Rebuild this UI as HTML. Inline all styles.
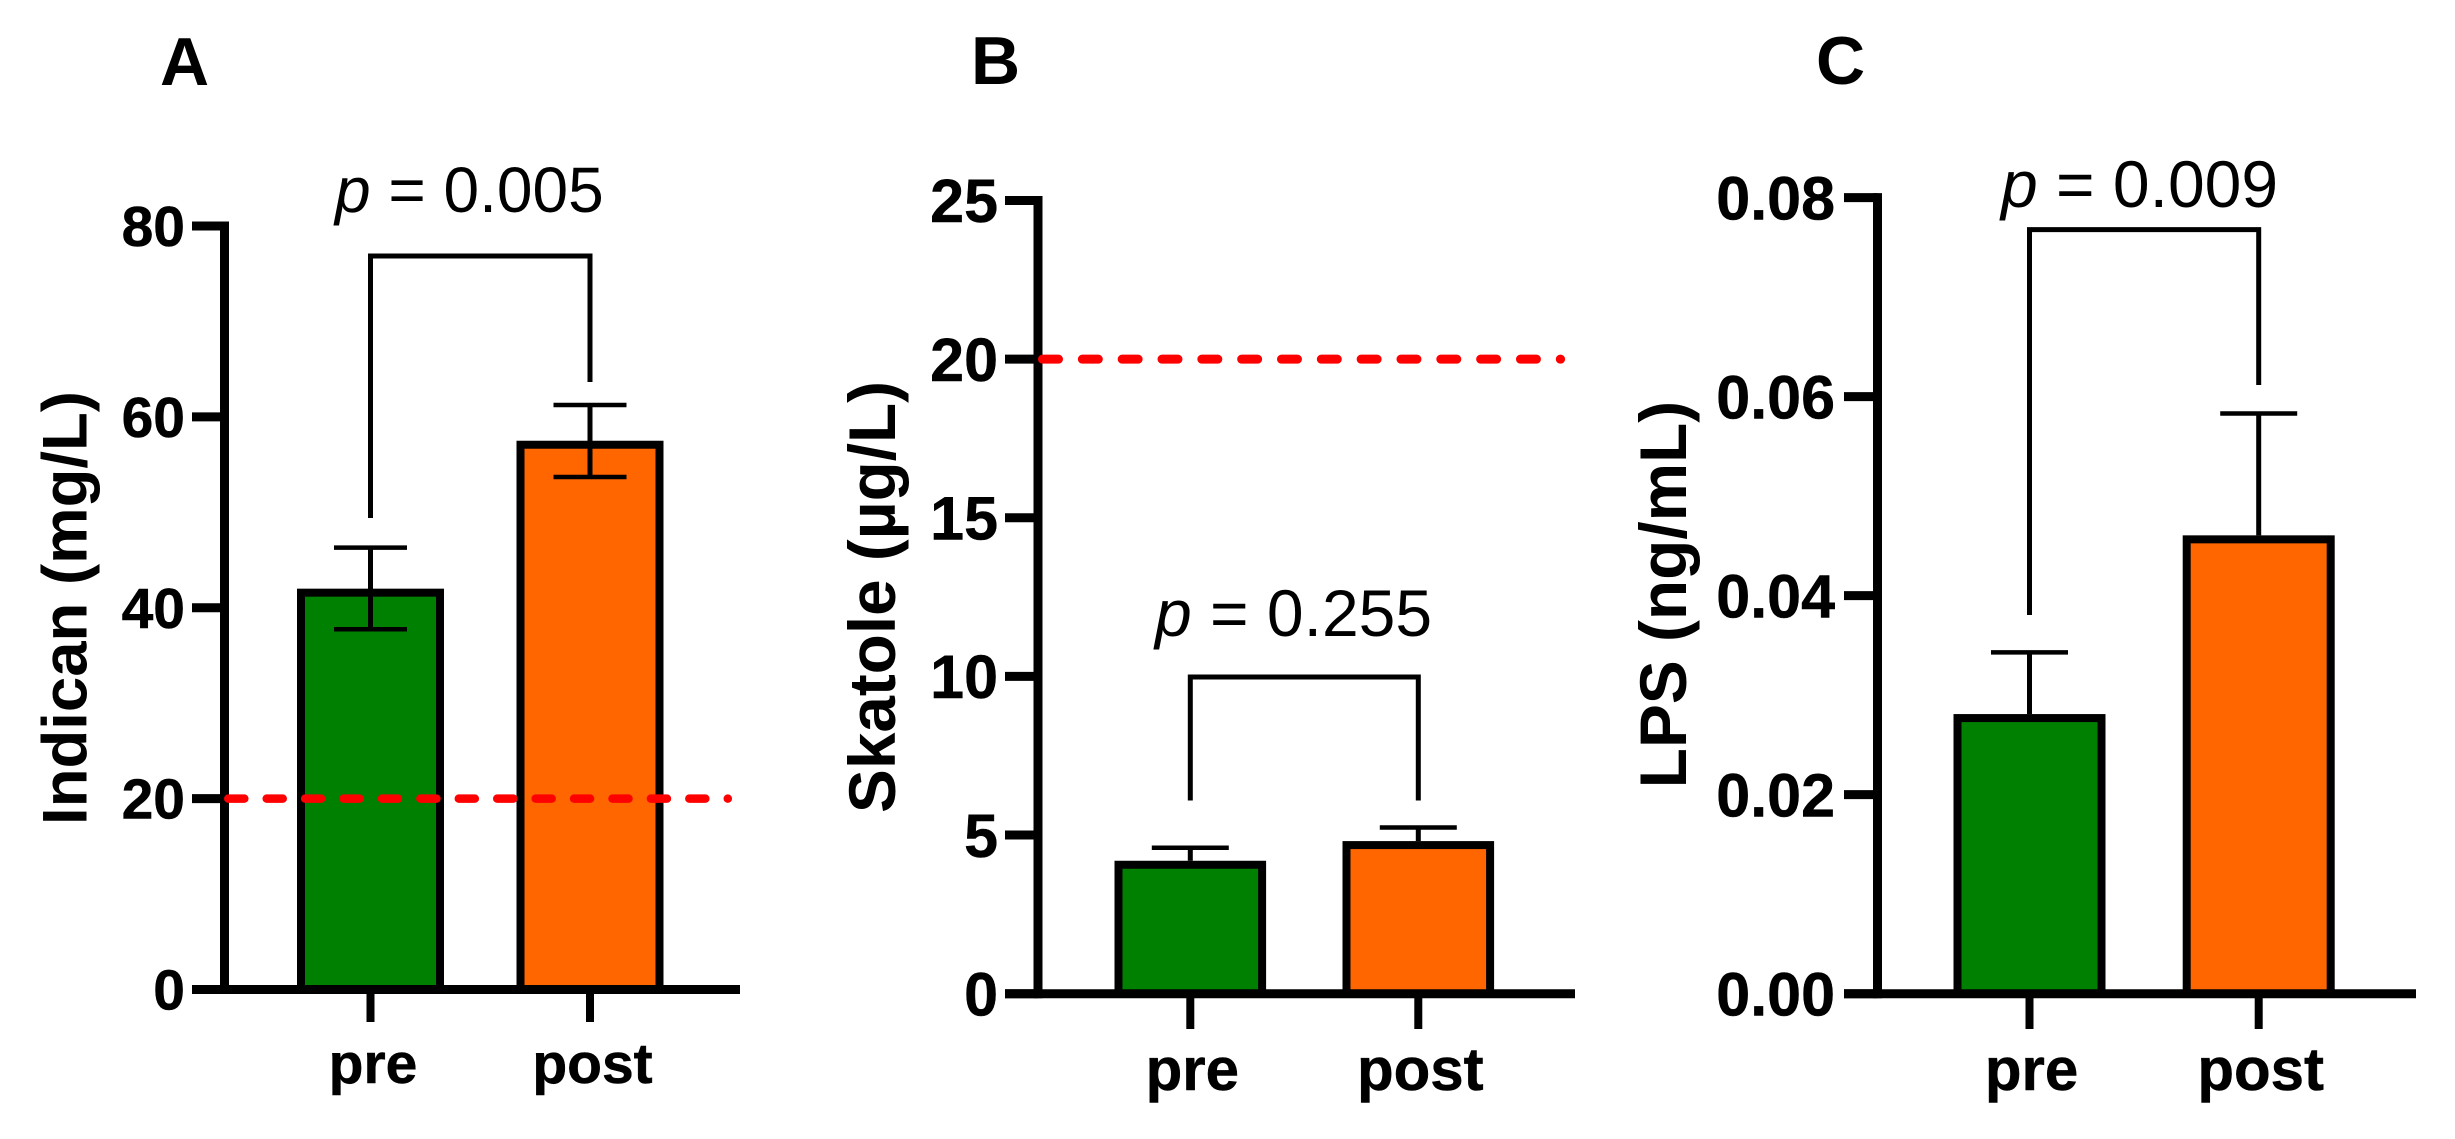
<!DOCTYPE html>
<html lang="en">
<head>
<meta charset="utf-8">
<title>Indican, Skatole and LPS before and after</title>
<style>
  html, body { margin: 0; padding: 0; background: #ffffff; }
  svg { display: block; }
  text { font-family: "Liberation Sans", Arial, sans-serif; fill: #000; }
  text.heavy { stroke: #000; stroke-width: 0.5px; }
</style>
</head>
<body>
<svg id="figure" xmlns="http://www.w3.org/2000/svg" width="2455" height="1139" viewBox="0 0 2455 1139"></svg>
<script>
// ---- Data ----
const categories = ['pre', 'post'];

const indicanMeans = [42, 57.5];
const indicanUpper = [46.3, 61.25];
const indicanLower = [37.75, 53.7];
const indicanTicks = [0, 20, 40, 60, 80];
const indicanTickLabels = ['0', '20', '40', '60', '80'];
const indicanThreshold = 20;
const indicanBracket = [76.86, 49.4, 63.65];
const indicanP = '0.005';

const skatoleMeans = [4.19, 4.81];
const skatoleUpper = [4.6, 5.24];
const skatoleLower = [null, null];
const skatoleTicks = [0, 5, 10, 15, 20, 25];
const skatoleTickLabels = ['0', '5', '10', '15', '20', '25'];
const skatoleThreshold = 20;
const skatoleBracket = [9.98, 6.09, 6.09];
const skatoleP = '0.255';

const lpsMeans = [0.0281, 0.04606];
const lpsUpper = [0.0343, 0.0583];
const lpsLower = [null, null];
const lpsTicks = [0, 0.02, 0.04, 0.06, 0.08];
const lpsTickLabels = ['0.00', '0.02', '0.04', '0.06', '0.08'];
const lpsThreshold = null;
const lpsBracket = [0.07678, 0.03806, 0.06117];
const lpsP = '0.009';

// ---- Panel layout (pixels) ----
const panels = [
  { id: 'indican', letter: 'A', letterX: 160, letterY: 85, title: 'Indican (mg/L)', titleX: 86.5, titleY: 608, titleSize: 63.5,
    axisX: 224.5, tickLeft: 192, axisRight: 740, y0: 989.5, yTop: 226, yMax: 80,
    tickFont: 57, tickDy: 20, tickLabelX: 185,
    centers: [370.5, 590], barW: 147, capW: 73, xTickEnd: 1022, xLabelY: 1083, xLabelShift: 2.5, xLabelFont: 57,
    pX: 335, pY: 212, pSize: 64,
    threshStart: 228.3, threshEnd: 727.8, threshWidth: 8.5, threshDash: '16 22.42',
    means: indicanMeans, upper: indicanUpper, lower: indicanLower, ticks: indicanTicks,
    tickLabels: indicanTickLabels, threshold: indicanThreshold, bracket: indicanBracket, p: indicanP },
  { id: 'skatole', letter: 'B', letterX: 971, letterY: 84, title: 'Skatole (\u00B5g/L)', titleX: 895, titleY: 597, titleSize: 65.7,
    axisX: 1038, tickLeft: 1005, axisRight: 1575, y0: 993.7, yTop: 200.5, yMax: 25,
    tickFont: 61, tickDy: 21.7, tickLabelX: 998,
    centers: [1190.3, 1418.3], barW: 151.6, capW: 77, xTickEnd: 1029, xLabelY: 1090, xLabelShift: 2, xLabelFont: 60,
    pX: 1155, pY: 636, pSize: 66,
    threshStart: 1042.5, threshEnd: 1560.6, threshWidth: 9, threshDash: '16 23.83',
    means: skatoleMeans, upper: skatoleUpper, lower: skatoleLower, ticks: skatoleTicks,
    tickLabels: skatoleTickLabels, threshold: skatoleThreshold, bracket: skatoleBracket, p: skatoleP },
  { id: 'lps', letter: 'C', letterX: 1816, letterY: 84, title: 'LPS (ng/mL)', titleX: 1686, titleY: 594.5, titleSize: 65.8,
    axisX: 1877.5, tickLeft: 1844, axisRight: 2416, y0: 993.7, yTop: 197.6, yMax: 0.08,
    tickFont: 61, tickDy: 21.7, tickLabelX: 1835,
    centers: [2029.5, 2258.7], barW: 152, capW: 77, xTickEnd: 1029, xLabelY: 1090, xLabelShift: 2, xLabelFont: 60,
    pX: 2001, pY: 207, pSize: 66,
    threshStart: 0, threshEnd: 0, threshWidth: 0, threshDash: '',
    means: lpsMeans, upper: lpsUpper, lower: lpsLower, ticks: lpsTicks,
    tickLabels: lpsTickLabels, threshold: lpsThreshold, bracket: lpsBracket, p: lpsP }
];

const barColors = ['#008000', '#ff6600'];
const svg = document.getElementById('figure');
const NS = 'http://www.w3.org/2000/svg';

function make(parent, tag, attrs, content) {
  const node = document.createElementNS(NS, tag);
  for (const k in attrs) node.setAttribute(k, attrs[k]);
  if (content !== undefined) node.textContent = content;
  parent.appendChild(node);
  return node;
}

function line(parent, x1, y1, x2, y2, w, color) {
  return make(parent, 'line', { x1: x1, y1: y1, x2: x2, y2: y2, stroke: color || '#000', 'stroke-width': w });
}

panels.forEach(function (p) {
  const yScale = function (v) { return p.y0 - (v / p.yMax) * (p.y0 - p.yTop); };

  const g = make(svg, 'g', {});
  
  

  const letter = make(g, 'text', { x: p.letterX, y: p.letterY, 'font-size': 68, 'font-weight': 700 }, p.letter);
  
  

  const title = make(g, 'text', {
    x: 0, y: 0, 'font-size': p.titleSize, 'font-weight': 700, 'text-anchor': 'middle',
    transform: 'translate(' + p.titleX + ' ' + p.titleY + ') rotate(-90)'
  }, p.title);
  
  

  // bars
  categories.forEach(function (cat, i) {
    const top = yScale(p.means[i]);
    const bar = make(g, 'rect', {
      x: p.centers[i] - p.barW / 2 + 4, y: top + 4,
      width: p.barW - 8, height: p.y0 - top - 4,
      fill: barColors[i], stroke: '#000', 'stroke-width': 8
    });
    
    
  });

  // error bars
  categories.forEach(function (cat, i) {
    const cx = p.centers[i];
    const eg = make(g, 'g', {});
    
    
    const hi = yScale(p.upper[i]);
    const lo = p.lower[i] === null ? yScale(p.means[i]) : yScale(p.lower[i]);
    line(eg, cx, hi, cx, lo, 5);
    line(eg, cx - p.capW / 2, hi, cx + p.capW / 2, hi, 4.5);
    if (p.lower[i] !== null) line(eg, cx - p.capW / 2, lo, cx + p.capW / 2, lo, 4.5);
  });

  // axes
  const yAxis = line(g, p.axisX, yScale(p.yMax) - 4.5, p.axisX, p.y0 + 4.5, 9);
  
  
  const xAxis = line(g, p.tickLeft, p.y0, p.axisRight, p.y0, 9);
  
  

  p.ticks.forEach(function (t, i) {
    const y = yScale(t);
    const tick = line(g, p.tickLeft, y, p.axisX, y, 9);
    
    
    const lab = make(g, 'text', {
      x: p.tickLabelX, y: y + p.tickDy, 'font-size': p.tickFont, 'font-weight': 700, 'text-anchor': 'end', 'class': 'heavy'
    }, p.tickLabels[i]);
    
    
  });

  categories.forEach(function (cat, i) {
    const tick = line(g, p.centers[i], p.y0, p.centers[i], p.xTickEnd, 8);
    
    
    const lab = make(g, 'text', {
      x: p.centers[i] + p.xLabelShift, y: p.xLabelY, 'font-size': p.xLabelFont, 'font-weight': 700, 'text-anchor': 'middle', 'class': 'heavy'
    }, cat);
    
    
  });

  // threshold line (drawn over the axis and bars)
  if (p.threshold !== null) {
    const yT = yScale(p.threshold);
    const thresh = line(g, p.threshStart, yT, p.threshEnd, yT, p.threshWidth, '#ff0000');
    thresh.setAttribute('stroke-dasharray', p.threshDash);
    thresh.setAttribute('stroke-linecap', 'round');
    
    
  }

  // significance bracket
  const by = yScale(p.bracket[0]);
  const bracket = make(g, 'polyline', {
    points: p.centers[0] + ',' + yScale(p.bracket[1]) + ' ' + p.centers[0] + ',' + by + ' ' +
            p.centers[1] + ',' + by + ' ' + p.centers[1] + ',' + yScale(p.bracket[2]),
    fill: 'none', stroke: '#000', 'stroke-width': 5, 'stroke-linejoin': 'miter'
  });
  
  

  const pText = make(g, 'text', { x: p.pX, y: p.pY, 'font-size': p.pSize });
  
  
  make(pText, 'tspan', { 'font-style': 'italic' }, 'p');
  make(pText, 'tspan', {}, ' = ' + p.p);
});
</script>
</body>
</html>
